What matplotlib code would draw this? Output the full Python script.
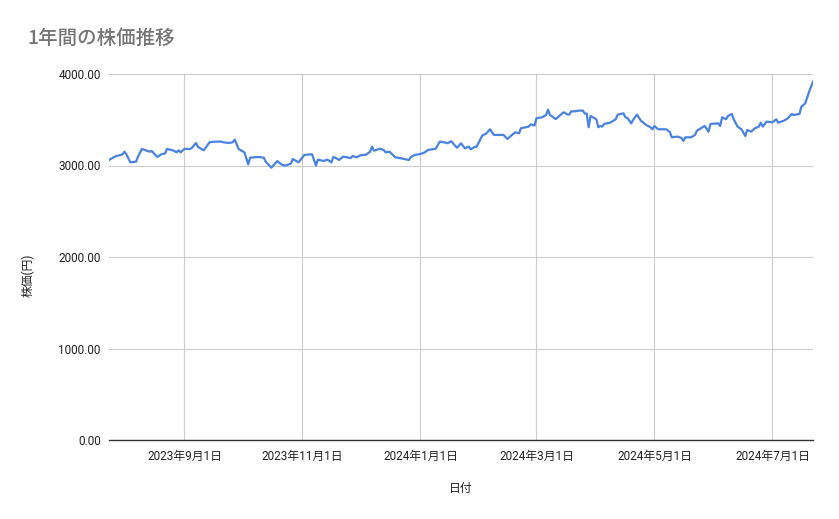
# 1年間の株価推移 (Google Sheets style line chart)
import matplotlib
matplotlib.use("Agg")
import matplotlib.pyplot as plt
import pandas as pd

plt.rcParams['font.family'] = ['Roboto', 'Noto Sans CJK JP', 'DejaVu Sans']

dates = [
    "2023-07-24", "2023-07-27", "2023-07-31", "2023-08-01", "2023-08-02", "2023-08-04",
    "2023-08-07", "2023-08-08", "2023-08-10", "2023-08-13", "2023-08-14", "2023-08-15",
    "2023-08-18", "2023-08-20", "2023-08-22", "2023-08-23", "2023-08-26", "2023-08-28",
    "2023-08-29", "2023-08-30", "2023-09-01", "2023-09-04", "2023-09-05", "2023-09-07",
    "2023-09-08", "2023-09-11", "2023-09-14", "2023-09-17", "2023-09-20", "2023-09-21",
    "2023-09-24", "2023-09-26", "2023-09-27", "2023-09-29", "2023-10-02", "2023-10-04",
    "2023-10-05", "2023-10-09", "2023-10-12", "2023-10-13", "2023-10-16", "2023-10-19",
    "2023-10-21", "2023-10-23", "2023-10-26", "2023-10-27", "2023-10-30", "2023-11-02",
    "2023-11-05", "2023-11-06", "2023-11-08", "2023-11-09", "2023-11-12", "2023-11-14",
    "2023-11-16", "2023-11-17", "2023-11-18", "2023-11-20", "2023-11-22", "2023-11-26",
    "2023-11-27", "2023-11-29", "2023-12-01", "2023-12-04", "2023-12-06", "2023-12-07",
    "2023-12-08", "2023-12-11", "2023-12-13", "2023-12-14", "2023-12-16", "2023-12-19",
    "2023-12-22", "2023-12-26", "2023-12-27", "2023-12-29", "2024-01-01", "2024-01-03",
    "2024-01-05", "2024-01-09", "2024-01-11", "2024-01-14", "2024-01-15", "2024-01-17",
    "2024-01-19", "2024-01-20", "2024-01-22", "2024-01-24", "2024-01-26", "2024-01-27",
    "2024-01-29", "2024-01-30", "2024-02-02", "2024-02-04", "2024-02-06", "2024-02-08",
    "2024-02-12", "2024-02-13", "2024-02-15", "2024-02-17", "2024-02-19", "2024-02-21",
    "2024-02-22", "2024-02-26", "2024-02-27", "2024-02-29", "2024-03-01", "2024-03-04",
    "2024-03-06", "2024-03-07", "2024-03-08", "2024-03-11", "2024-03-15", "2024-03-17",
    "2024-03-18", "2024-03-19", "2024-03-21", "2024-03-23", "2024-03-25", "2024-03-26",
    "2024-03-27", "2024-03-28", "2024-03-29", "2024-04-01", "2024-04-02", "2024-04-03",
    "2024-04-04", "2024-04-05", "2024-04-08", "2024-04-11", "2024-04-12", "2024-04-15",
    "2024-04-16", "2024-04-17", "2024-04-19", "2024-04-20", "2024-04-22", "2024-04-24",
    "2024-04-27", "2024-04-29", "2024-04-30", "2024-05-01", "2024-05-03", "2024-05-05",
    "2024-05-07", "2024-05-09", "2024-05-10", "2024-05-13", "2024-05-15", "2024-05-16",
    "2024-05-17", "2024-05-20", "2024-05-22", "2024-05-23", "2024-05-25", "2024-05-27",
    "2024-05-29", "2024-05-30", "2024-06-03", "2024-06-04", "2024-06-05", "2024-06-07",
    "2024-06-08", "2024-06-10", "2024-06-11", "2024-06-13", "2024-06-15", "2024-06-17",
    "2024-06-18", "2024-06-20", "2024-06-22", "2024-06-24", "2024-06-25", "2024-06-26",
    "2024-06-28", "2024-07-01", "2024-07-03", "2024-07-04", "2024-07-07", "2024-07-09",
    "2024-07-11", "2024-07-12", "2024-07-15", "2024-07-16", "2024-07-18", "2024-07-20",
    "2024-07-22",
]

prices = [
    3060, 3097, 3122, 3151, 3122, 3035,
    3042, 3097, 3181, 3159, 3151, 3159,
    3093, 3122, 3133, 3181, 3166, 3144,
    3166, 3144, 3181, 3181, 3195, 3246,
    3203, 3166, 3254, 3261, 3261, 3254,
    3246, 3254, 3283, 3181, 3144, 3013,
    3086, 3093, 3086, 3042, 2976, 3049,
    3013, 2998, 3020, 3071, 3035, 3115,
    3122, 3122, 3000, 3064, 3049, 3064,
    3035, 3093, 3085, 3060, 3097, 3082,
    3104, 3090, 3111, 3119, 3151, 3206,
    3162, 3184, 3170, 3144, 3151, 3090,
    3079, 3060, 3090, 3115, 3126, 3140,
    3170, 3184, 3261, 3250, 3243, 3265,
    3214, 3195, 3243, 3188, 3206, 3177,
    3203, 3203, 3327, 3349, 3396, 3334,
    3334, 3334, 3290, 3327, 3363, 3352,
    3407, 3425, 3450, 3436, 3516, 3527,
    3552, 3610, 3552, 3508, 3581, 3559,
    3556, 3592, 3592, 3600, 3600, 3567,
    3567, 3418, 3541, 3505, 3418, 3432,
    3425, 3454, 3468, 3505, 3556, 3570,
    3527, 3520, 3461, 3498, 3556, 3490,
    3439, 3418, 3396, 3432, 3396, 3396,
    3396, 3366, 3308, 3316, 3301, 3268,
    3308, 3308, 3334, 3381, 3407, 3432,
    3370, 3454, 3461, 3432, 3527, 3505,
    3541, 3563, 3505, 3425, 3396, 3323,
    3388, 3370, 3407, 3425, 3468, 3425,
    3479, 3472, 3505, 3468, 3490, 3516,
    3563, 3552, 3563, 3643, 3680, 3807,
    3916,
]

tick_dates = ["2023-09-01", "2023-11-01", "2024-01-01", "2024-03-01", "2024-05-01", "2024-07-01"]
tick_labels = ["2023年9月1日", "2023年11月1日", "2024年1月1日", "2024年3月1日", "2024年5月1日", "2024年7月1日"]
y_ticks = [0, 1000, 2000, 3000, 4000]

x = pd.to_datetime(dates)

fig = plt.figure(figsize=(8.39, 5.19), dpi=100)
ax = fig.add_axes([109 / 839, 1 - 440 / 519, (813 - 109) / 839, (440 - 74) / 519])

ax.plot(x, prices, color='#4a82e0', linewidth=1.6)

ax.set_xlim(x[0], x[-1])
ax.set_ylim(0, 4000)
ax.set_xticks(pd.to_datetime(tick_dates))
ax.set_xticklabels(tick_labels)
ax.set_yticks(y_ticks)
ax.set_yticklabels([f"{v:.2f}" for v in y_ticks])

ax.grid(True, color='#cccccc', linewidth=0.8)
ax.set_axisbelow(True)
for side in ['top', 'right', 'left']:
    ax.spines[side].set_visible(False)
ax.spines['bottom'].set_color('#333333')
ax.spines['bottom'].set_linewidth(1.0)
ax.tick_params(axis='both', length=0, labelsize=8.5, colors='#222222')
ax.tick_params(axis='x', pad=7)
ax.tick_params(axis='y', pad=6)

ax.set_xlabel("日付", fontsize=8.5, color='#222222')
ax.xaxis.set_label_coords(0.5, -0.115)
ax.set_ylabel("株価(円)", fontsize=8.5, color='#222222')
ax.yaxis.set_label_coords(-0.105, 0.45)

fig.text(27 / 839, 1 - 38 / 519, "1年間の株価推移", fontsize=14, color='#757575',
         va='center', ha='left', fontweight='medium',
         family=['Noto Sans CJK JP', 'DejaVu Sans'])

fig.savefig("out.png", dpi=100)
